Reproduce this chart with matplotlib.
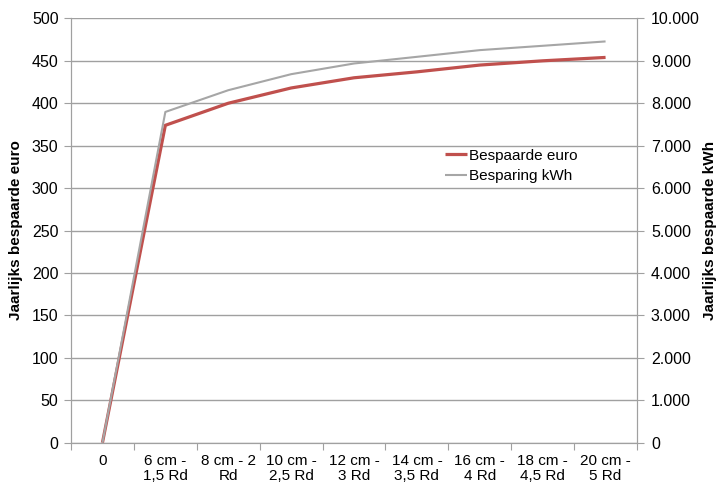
import matplotlib.pyplot as plt
from matplotlib.ticker import FuncFormatter, FixedLocator

plt.rcParams['font.family'] = ['Liberation Sans', 'DejaVu Sans']

# Isolation thickness categories
categories = ["0", "6 cm -\n1,5 Rd", "8 cm - 2\nRd", "10 cm -\n2,5 Rd", "12 cm -\n3 Rd",
              "14 cm -\n3,5 Rd", "16 cm -\n4 Rd", "18 cm -\n4,5 Rd", "20 cm -\n5 Rd"]

# Yearly savings
euro = [0, 374, 400, 418, 430, 437, 445, 450, 454]
kwh = [0, 7795, 8307, 8685, 8937, 9094, 9252, 9354, 9457]

red = "#c0504d"
grey = "#a6a6a6"
axis_grey = "#a0a0a0"

fig = plt.figure(figsize=(7.21, 4.97), dpi=100)
ax = fig.add_axes([0.0985, 0.1093, 0.785, 0.8537])
ax2 = ax.twinx()

x = list(range(len(categories)))
l1, = ax.plot(x, euro, color=red, lw=2.3, solid_capstyle="butt", label="Bespaarde euro")
l2, = ax2.plot(x, kwh, color=grey, lw=1.5, solid_capstyle="butt", label="Besparing kWh")

ax.set_xlim(-0.5, len(categories) - 0.5)
ax.set_ylim(0, 500)
ax2.set_ylim(0, 10000)
ax.set_yticks(range(0, 501, 50))
ax2.set_yticks(range(0, 10001, 1000))
ax2.yaxis.set_major_formatter(FuncFormatter(lambda v, p: f"{int(v):,}".replace(",", ".")))

# category labels centred, ticks between categories
ax.xaxis.set_major_locator(FixedLocator([i - 0.5 for i in range(len(categories) + 1)]))
ax.xaxis.set_major_formatter(FuncFormatter(lambda v, p: ""))
ax.set_xticks(x, minor=True)
ax.set_xticklabels(categories, minor=True, fontsize=11, linespacing=1.1)
ax.tick_params(axis="x", which="minor", length=0, pad=8)
ax.tick_params(axis="x", which="major", length=5, color=axis_grey, direction="out")

ax.grid(axis="y", color=axis_grey, lw=1)
ax.set_axisbelow(True)
for a in (ax, ax2):
    a.spines["top"].set_visible(False)
    for s in ("left", "right", "bottom"):
        a.spines[s].set_color(axis_grey)
ax.tick_params(axis="y", length=5, color=axis_grey, labelsize=11.5, pad=4)
ax2.tick_params(axis="y", length=5, color=axis_grey, labelsize=11.5, pad=5)

ax.set_ylabel("Jaarlijks bespaarde euro", fontsize=11, fontweight="bold", labelpad=6)
ax2.set_ylabel("Jaarlijks bespaarde kWh", fontsize=11, fontweight="bold", labelpad=2)

ax2.legend(handles=[l1, l2], loc="center left", bbox_to_anchor=(0.661, 0.652),
           frameon=False, fontsize=11, handlelength=1.45, handletextpad=0.1,
           labelspacing=0.45, borderpad=0, borderaxespad=0)

fig.savefig("out.png", dpi=100)
